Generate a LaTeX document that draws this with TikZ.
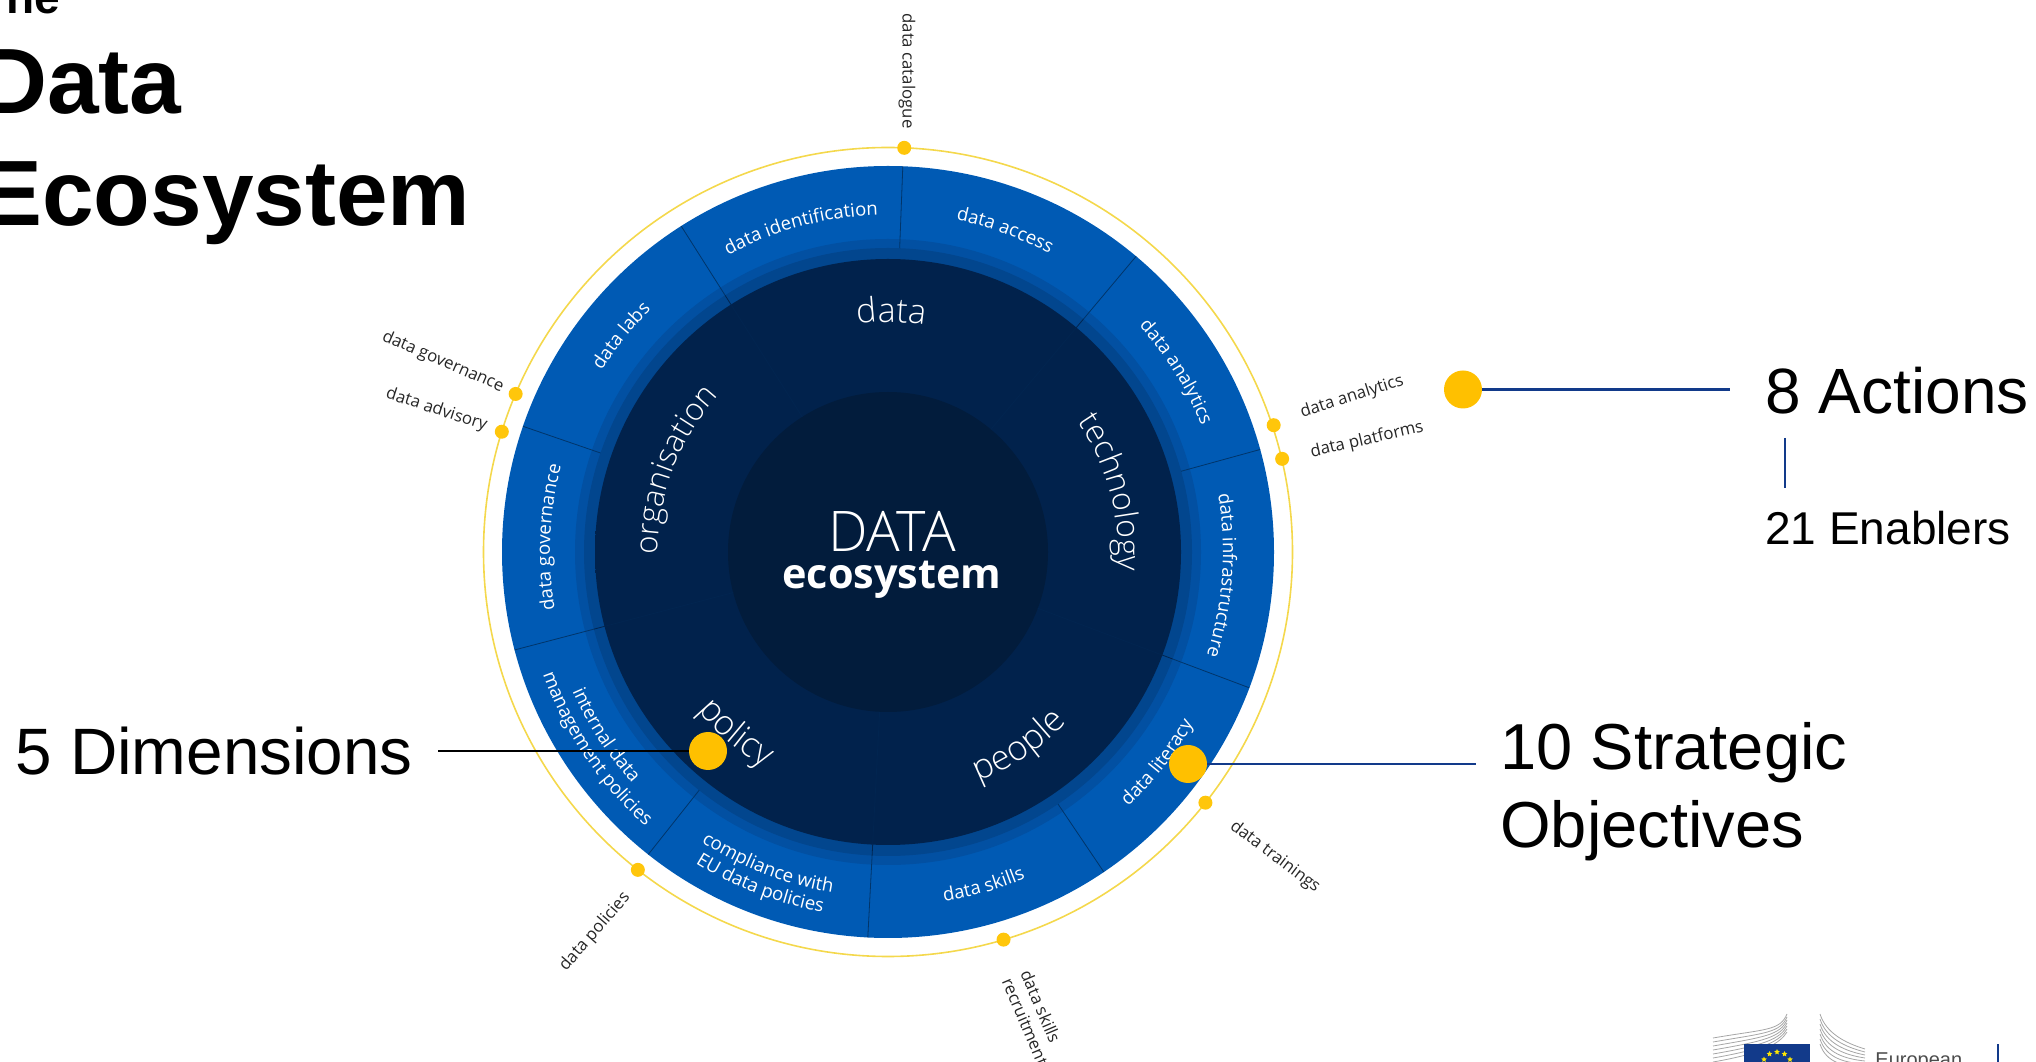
\documentclass[tikz,border=0pt]{standalone}
\usepackage{fontspec}
\setmainfont{Liberation Sans}
\newfontfamily\wheelfont{Open Sans}
\newfontfamily\wheellight{Open Sans Light}
\usetikzlibrary{decorations.text,shapes.geometric}
\definecolor{ringblue}{HTML}{005AB4}
\definecolor{bandblue}{HTML}{0250A2}
\definecolor{banddark}{HTML}{02468E}
\definecolor{dimnavy}{HTML}{012B5E}
\definecolor{dimedge}{HTML}{01224C}
\definecolor{corenavy}{HTML}{021C3C}
\definecolor{ringyellow}{HTML}{F4D84C}
\definecolor{dotyellow}{HTML}{FFC60B}
\definecolor{bigyellow}{HTML}{FFC000}
\definecolor{linenavy}{HTML}{123A8A}
\pgfdeclareradialshading{dimshade}{\pgfpoint{0bp}{0bp}}{color(0bp)=(dimedge); color(27.3bp)=(dimedge); color(35bp)=(dimnavy); color(50bp)=(dimnavy)}
\newcommand{\ringfont}{\wheelfont\fontsize{9.3}{11}\selectfont\color{white}}
\newcommand{\dimfont}[1]{\wheellight\fontsize{#1}{20}\selectfont\color{white}}
\newcommand{\ringtext}[5]{\path[decorate,decoration={text along path,text={|#1|#5},text align=center}] (#3:#2) arc[start angle=#3,end angle=#4,radius=#2];}
\tikzset{
  bigdot/.style={circle,fill=bigyellow,inner sep=0pt,minimum size=19pt},
  smalldot/.style={circle,fill=dotyellow,inner sep=0pt,minimum size=7pt},
  outlabel/.style={font=\wheelfont\fontsize{8.4}{10}\selectfont,text=black!85,inner sep=0pt},
  bigtext/.style={font=\fontsize{32}{39}\selectfont,anchor=base west,inner sep=0pt},
  headtext/.style={font=\bfseries\fontsize{46.4}{50}\selectfont,anchor=base west,inner sep=0pt},
  seamline/.style={draw=banddark!75!black,line width=.4pt},
  leadline/.style={draw=linenavy,line width=1.2pt},
  eustar/.style={star,star points=5,star point ratio=2.2,fill=yellow!90!orange,inner sep=0pt,minimum size=3pt}
}
\begin{document}
\begin{tikzpicture}[x=.5pt,y=.5pt]
\useasboundingbox (0,0) rectangle (2036,1061);
\node[headtext] (headthe) at (-22,1047) {\fontsize{23}{26}\selectfont The};
\node[headtext] (headdata) at (-20,947) {Data};
\node[headtext] (headeco) at (-20,835) {Ecosystem};
\begin{scope}[shift={(888,509)}]
\draw[ringyellow,line width=.8pt] (0,0) circle (404.5);
\fill[ringblue] (0,0) circle (386);
\fill[bandblue] (0,0) circle (313);
\fill[banddark] (0,0) circle (304);
\shade[shading=dimshade] (0,0) circle (293);
\fill[corenavy] (0,0) circle (160);
\foreach \a in {87.8,50,15.4,-20.6,-56,-93,-128.4,-165.3,161,122.4}
  \draw[seamline] (\a:304) -- (\a:386);
\foreach \a in {50,-20.6,-93,194.7,122.4}
  \draw[seamline,draw=dimnavy!60!corenavy] (\a:160) -- (\a:304);
\ringtext{\ringfont}{337}{122}{88}{data identification}
\ringtext{\ringfont}{339}{88.5}{51.5}{data access}
\ringtext{\ringfont}{338}{50}{14}{data analytics}
\ringtext{\ringfont}{335}{24}{-32}{data infrastructure}
\ringtext{\ringfont}{350}{-60}{-16}{data literacy}
\ringtext{\ringfont}{354}{-94}{-54}{data skills}
\ringtext{\ringfont}{345}{-131}{-91}{compliance with}
\ringtext{\ringfont}{366}{-131}{-91}{EU data policies}
\ringtext{\ringfont}{345}{-167}{-127}{internal data}
\ringtext{\ringfont}{366}{-171}{-121}{management policies}
\ringtext{\ringfont}{338}{206}{149}{data governance}
\ringtext{\ringfont}{339}{161}{121}{data labs}
\ringtext{\dimfont{17}}{230}{124}{54.3}{data}
\ringtext{\dimfont{16}}{230}{50}{-20}{technology}
\ringtext{\dimfont{17.3}}{247}{-91}{-21}{people}
\ringtext{\dimfont{17.3}}{248}{-165}{-95}{policy}
\ringtext{\dimfont{15.6}}{230}{194}{124}{organisation}
\node[smalldot] (dotcatalogue) at (87.7:404.5) {};
\node[smalldot] (dotgovernance) at (157:404.5) {};
\node[smalldot] (dotadvisory) at (162.7:404.5) {};
\node[smalldot] (dotanalytics) at (18.2:406) {};
\node[smalldot] (dotplatforms) at (13.3:405) {};
\node[smalldot] (dottrainings) at (-38.3:404.5) {};
\node[smalldot] (dotrecruit) at (-73.4:404.5) {};
\node[smalldot] (dotpolicies) at (231.8:404.5) {};
\end{scope}
\node[font=\wheellight\fontsize{28}{32}\selectfont,text=white,anchor=base,inner sep=0pt] (coretop) at (892,509) {DATA};
\node[font=\wheelfont\bfseries\fontsize{20.7}{24}\selectfont,text=white,anchor=base,inner sep=0pt] (corebottom) at (892,472) {ecosystem};
\node[outlabel,rotate=-90] (labcatalogue) at (907,990) {data catalogue};
\node[outlabel,rotate=-23.4] (labgovernance) at (443,699) {data governance};
\node[outlabel,rotate=-18] (labadvisory) at (436.5,651) {data advisory};
\node[outlabel,rotate=17.6] (labanalytics) at (1352,664) {data analytics};
\node[outlabel,rotate=13] (labplatforms) at (1367,621) {data platforms};
\node[outlabel,rotate=-37] (labtrainings) at (1275,204) {data trainings};
\node[outlabel,rotate=49] (labpolicies) at (595,129) {data policies};
\node[outlabel,rotate=-67,align=left,anchor=north west] (labrecruit) at (1032,93) {data skills\\recruitment};
\coordinate (actionsend) at (1730,671.5);
\coordinate (enablertop) at (1785,623);
\coordinate (enablerbot) at (1785,572.5);
\coordinate (strategicend) at (1476,297);
\coordinate (dimensionend) at (438,310);
\node[bigdot] (dotactions) at (1463,671.5) {};
\node[bigdot] (dotstrategic) at (1188,297) {};
\node[bigdot] (dotdimension) at (708,310) {};
\draw[leadline] (dotactions) -- (actionsend);
\draw[leadline] (dotstrategic) -- (strategicend);
\draw[leadline,line width=.8pt] (enablertop) -- (enablerbot);
\draw[leadline,draw=black] (dotdimension) -- (dimensionend);
\node[bigtext] (actions) at (1765,647) {8 Actions};
\node[bigtext,font=\fontsize{23}{28}\selectfont] (enablers) at (1765,516) {21 Enablers};
\node[bigtext,align=left,font=\fontsize{32.5}{39}\selectfont] (strategic) at (1500,213.4) {10 Strategic\\Objectives};
\node[bigtext,font=\fontsize{32.8}{39}\selectfont] (dimensions) at (15,286) {5 Dimensions};
\foreach \i in {0,...,6}
  \draw[black!35,line width=.4pt] (1713,23-\i*4) .. controls (1765,32-\i*4) and (1780,30-\i*2) .. (1787,47-\i*3);
\foreach \i in {0,...,6}
  \draw[black!35,line width=.4pt] (1820,47-\i*5) .. controls (1826,28-\i*5) and (1845,18-\i*4) .. (1865,12-\i*3);
\fill[linenavy] (1744,17) rectangle (1810,-5);
\foreach \a in {0,30,...,330}
  \node[eustar] (star\a) at ([shift={(1777,-6)}]\a:15) {};
\node[font=\fontsize{10}{12}\selectfont,text=black!70,anchor=base west,inner sep=0pt] (logotext) at (1875,-5) {European};
\coordinate (logobartop) at (1998,17);
\coordinate (logobarbot) at (1998,-5);
\draw[linenavy,line width=1.2pt] (logobartop) -- (logobarbot);
\end{tikzpicture}
\end{document}
